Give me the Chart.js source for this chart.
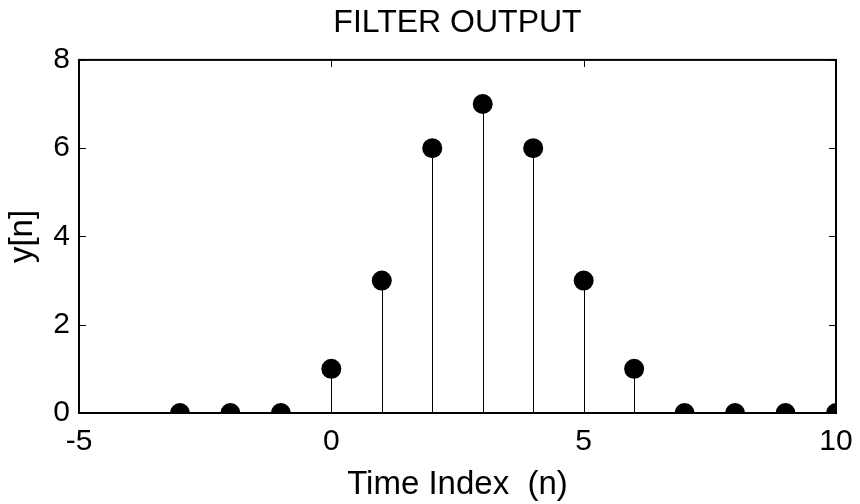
<!DOCTYPE html>
<html>
<head>
<meta charset="utf-8">
<script src="https://cdn.jsdelivr.net/npm/chart.js@4/dist/chart.umd.min.js"></script>
<style>
html,body{margin:0;padding:0;background:#fff;}
canvas{display:block;}
</style>
</head>
<body>
<canvas id="c" width="860" height="504"></canvas>
<script>
const nValues = [-3, -2, -1, 0, 1, 2, 3, 4, 5, 6, 7, 8, 9, 10];
const yValues = [0, 0, 0, 1, 3, 6, 7, 6, 3, 1, 0, 0, 0, 0];
const xTicks = [-5, 0, 5, 10];
const yTicks = [0, 2, 4, 6, 8];
const titleText = 'FILTER OUTPUT';
const xLabel = 'Time Index  (n)';
const yLabel = 'y[n]';

const FONT = '"Liberation Sans", Arial, Helvetica, sans-serif';
const TICK_FS = 30;
const LABEL_FS = 33;
const TITLE_FS = 32;

const points = nValues.map((n, i) => ({x: n, y: yValues[i]}));

const stemPlugin = {
  id: 'stems',
  beforeDatasetsDraw(chart) {
    const {ctx, chartArea: a, scales: {x, y}} = chart;
    ctx.save();
    ctx.beginPath();
    ctx.rect(a.left, a.top, a.right - a.left, a.bottom - a.top);
    ctx.clip();
    ctx.strokeStyle = '#000';
    ctx.lineWidth = 1;
    const y0 = y.getPixelForValue(0);
    points.forEach(p => {
      const px = Math.round(x.getPixelForValue(p.x)) + 0.5;
      ctx.beginPath();
      ctx.moveTo(px, y0);
      ctx.lineTo(px, y.getPixelForValue(p.y));
      ctx.stroke();
    });
    ctx.restore();
  }
};

const boxPlugin = {
  id: 'box',
  afterDatasetsDraw(chart) {
    const {ctx, chartArea: a, scales: {x, y}} = chart;
    ctx.save();
    ctx.strokeStyle = '#000';
    ctx.lineWidth = 1;
    const tl = 7;
    ctx.beginPath();
    x.ticks.forEach(t => {
      const px = Math.round(x.getPixelForValue(t.value)) + 0.5;
      ctx.moveTo(px, a.bottom); ctx.lineTo(px, a.bottom - tl);
      ctx.moveTo(px, a.top); ctx.lineTo(px, a.top + tl);
    });
    y.ticks.forEach(t => {
      const py = Math.round(y.getPixelForValue(t.value)) + 0.5;
      ctx.moveTo(a.left, py); ctx.lineTo(a.left + tl, py);
      ctx.moveTo(a.right, py); ctx.lineTo(a.right - tl, py);
    });
    ctx.stroke();
    ctx.lineWidth = 2;
    ctx.strokeRect(a.left, a.top, a.right - a.left, a.bottom - a.top);
    ctx.restore();
  }
};

new Chart(document.getElementById('c'), {
  type: 'scatter',
  data: {
    datasets: [{
      data: points,
      backgroundColor: '#000',
      borderColor: '#000',
      borderWidth: 0,
      pointRadius: 10,
      pointHoverRadius: 10,
      clip: 0
    }]
  },
  options: {
    responsive: false,
    animation: false,
    layout: {padding: {left: 0, right: 24, top: 0, bottom: 0}},
    plugins: {
      legend: {display: false},
      tooltip: {enabled: false},
      title: {
        display: true,
        fullSize: false,
        text: titleText,
        color: '#000',
        font: {family: FONT, size: TITLE_FS, weight: 'normal'},
        padding: {top: 4, bottom: 17.5}
      }
    },
    scales: {
      x: {
        type: 'linear',
        min: -5, max: 10,
        afterBuildTicks: s => { s.ticks = xTicks.map(v => ({value: v})); },
        afterFit: s => { s.paddingLeft = 0; s.paddingRight = 0; },
        grid: {display: false, drawTicks: false},
        border: {display: false},
        ticks: {color: '#000', font: {family: FONT, size: TICK_FS}, padding: 11, maxRotation: 0, autoSkip: false},
        title: {display: true, text: xLabel, color: '#000', font: {family: FONT, size: LABEL_FS}, padding: {top: -6.3, bottom: -0.3}}
      },
      y: {
        type: 'linear',
        min: 0, max: 8,
        afterBuildTicks: s => { s.ticks = yTicks.map(v => ({value: v})); },
        grid: {display: false, drawTicks: false},
        border: {display: false},
        ticks: {color: '#000', font: {family: FONT, size: TICK_FS}, padding: 9, autoSkip: false},
        title: {display: true, text: yLabel, color: '#000', font: {family: FONT, size: LABEL_FS}, padding: {top: 3.2, bottom: 1.5}}
      }
    }
  },
  plugins: [stemPlugin, boxPlugin]
});
</script>
</body>
</html>
